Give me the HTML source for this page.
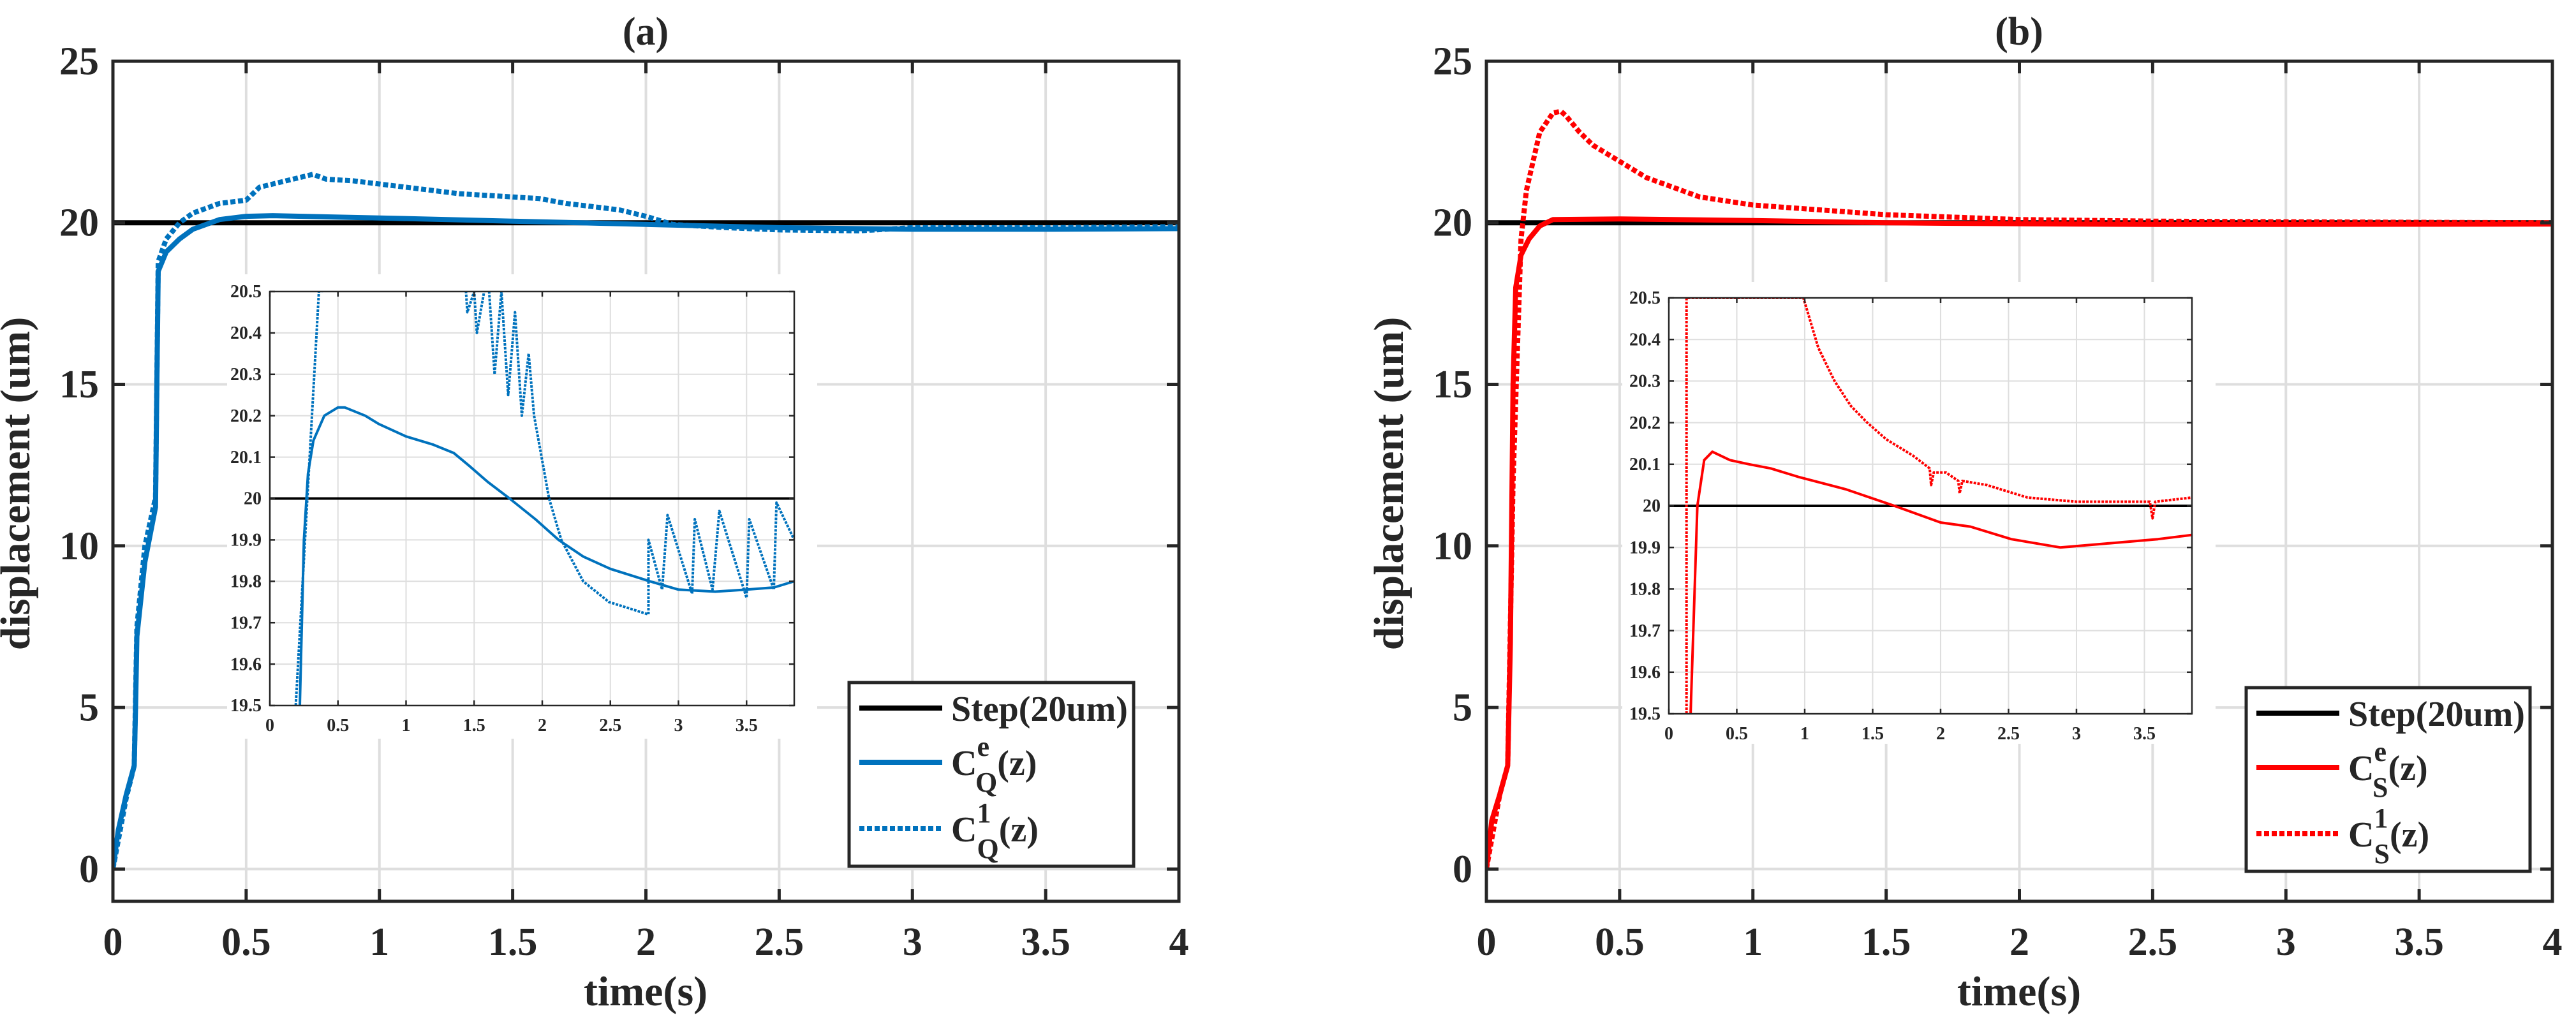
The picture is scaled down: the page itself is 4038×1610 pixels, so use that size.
<!DOCTYPE html>
<html><head><meta charset="utf-8">
<style>
html,body{margin:0;padding:0;background:#fff;}
svg{display:block;}
svg text{font-family:"Liberation Serif","Times New Roman",Times,serif !important;font-weight:bold;fill:#262626;}
</style></head>
<body>
<svg id="fig" width="4038" height="1610" viewBox="0 0 4038 1610" xmlns="http://www.w3.org/2000/svg" font-family="Liberation Serif, serif">
<defs>
<clipPath id="clipA"><rect x="177" y="96" width="1671" height="1317"/></clipPath>
<clipPath id="clipB"><rect x="2330" y="96" width="1671" height="1317"/></clipPath>
<clipPath id="clipAi"><rect x="423" y="457" width="822" height="649"/></clipPath>
<clipPath id="clipBi"><rect x="2616" y="467" width="820" height="652"/></clipPath>
</defs>
</svg>
<script>
// ---------- data: panel (a) main ----------
const mainTicksX = [0,0.5,1,1.5,2,2.5,3,3.5,4];
const mainTickLabelsX = ['0','0.5','1','1.5','2','2.5','3','3.5','4'];
const mainTicksY = [0,5,10,15,20,25];
const mainTickLabelsY = ['0','5','10','15','20','25'];
const stepT = [0,4];
const stepV = [20,20];
const aCeT = [0,0.02,0.05,0.08,0.085,0.09,0.12,0.16,0.165,0.17,0.2,0.25,0.3,0.4,0.5,0.6,1.0,1.5,2.0,2.5,3.0,3.5,4.0];
const aCeV = [0,1.2,2.3,3.2,5,7.2,9.5,11.2,15,18.5,19.1,19.5,19.8,20.1,20.2,20.22,20.15,20.05,19.95,19.85,19.8,19.8,19.82];
const aC1T = [0,0.05,0.08,0.09,0.12,0.16,0.17,0.2,0.25,0.3,0.4,0.5,0.55,0.6,0.65,0.7,0.75,0.8,0.9,1.0,1.1,1.2,1.3,1.4,1.5,1.6,1.7,1.8,1.9,2.0,2.1,2.3,2.5,2.8,3.0,3.5,4.0];
const aC1V = [0,2.2,3.2,7.5,10,11.5,18.8,19.5,20.0,20.3,20.6,20.7,21.1,21.2,21.3,21.4,21.5,21.35,21.3,21.2,21.1,21.0,20.9,20.85,20.8,20.75,20.6,20.5,20.4,20.2,19.95,19.85,19.78,19.75,19.85,19.85,19.88];
// ---------- data: panel (a) inset ----------
const insetTicksX = [0,0.5,1,1.5,2,2.5,3,3.5];
const insetTickLabelsX = ['0','0.5','1','1.5','2','2.5','3','3.5'];
const insetTicksY = [19.5,19.6,19.7,19.8,19.9,20,20.1,20.2,20.3,20.4,20.5];
const insetTickLabelsY = ['19.5','19.6','19.7','19.8','19.9','20','20.1','20.2','20.3','20.4','20.5'];
const insetStepT = [0,3.85];
const insetStepV = [20,20];
const aiCeT = [0.22,0.25,0.28,0.32,0.4,0.5,0.55,0.7,0.8,1.0,1.2,1.35,1.46,1.6,1.76,1.95,2.12,2.3,2.5,2.79,3.0,3.27,3.5,3.7,3.85];
const aiCeV = [19.5,19.9,20.06,20.14,20.2,20.22,20.22,20.2,20.18,20.15,20.13,20.11,20.08,20.04,20.0,19.95,19.9,19.86,19.83,19.8,19.78,19.775,19.78,19.785,19.8];
const aiC1T = [0.19,0.36,1.43,1.45,1.5,1.52,1.6,1.65,1.7,1.75,1.8,1.85,1.9,1.94,2.05,2.14,2.3,2.49,2.78,2.78,2.88,2.92,3.1,3.12,3.25,3.3,3.5,3.52,3.7,3.72,3.85];
const aiC1V = [19.5,20.5,20.55,20.45,20.5,20.4,20.55,20.3,20.5,20.25,20.45,20.2,20.35,20.2,20.0,19.9,19.8,19.75,19.72,19.9,19.78,19.96,19.77,19.95,19.78,19.97,19.76,19.95,19.78,19.99,19.9];
// ---------- data: panel (b) main ----------
const bCeT = [0,0.02,0.05,0.08,0.09,0.1,0.11,0.13,0.16,0.2,0.25,0.5,1.0,1.5,2.0,2.5,3.0,4.0];
const bCeV = [0,1.5,2.3,3.2,7,15,18,19.0,19.5,19.9,20.1,20.12,20.07,20.0,19.97,19.95,19.95,19.96];
const bC1T = [0,0.05,0.08,0.1,0.13,0.15,0.2,0.25,0.28,0.3,0.35,0.4,0.5,0.6,0.8,1.0,1.5,2.0,2.5,3.0,4.0];
const bC1V = [0,2.3,3.2,12,19.5,21,22.8,23.4,23.45,23.3,22.8,22.4,21.9,21.4,20.8,20.55,20.25,20.1,20.05,20.03,20.0];
// ---------- data: panel (b) inset ----------
const biCeT = [0.16,0.21,0.26,0.32,0.45,0.59,0.75,0.95,1.3,1.66,2.0,2.22,2.52,2.88,3.24,3.6,3.85];
const biCeV = [19.5,20.0,20.11,20.13,20.11,20.1,20.09,20.07,20.04,20.0,19.96,19.95,19.92,19.9,19.91,19.92,19.93];
const biC1T = [0.13,0.13,0.99,1.1,1.22,1.34,1.46,1.6,1.8,1.92,1.93,1.95,2.04,2.13,2.14,2.16,2.34,2.64,3.0,3.54,3.56,3.58,3.85];
const biC1V = [19.5,20.5,20.5,20.38,20.3,20.24,20.2,20.16,20.12,20.09,20.05,20.08,20.08,20.06,20.03,20.06,20.05,20.02,20.01,20.01,19.97,20.01,20.02];

const NS = 'http://www.w3.org/2000/svg';
const svg = document.getElementById('fig');
const FONT = '"Liberation Serif", "Times New Roman", serif';
function el(tag, attrs, parent){
  const e = document.createElementNS(NS, tag);
  for (const k in attrs) e.setAttribute(k, attrs[k]);
  if (tag === 'text') { e.style.fontFamily = FONT; e.style.fontWeight = 'bold'; }
  (parent||svg).appendChild(e);
  return e;
}
function makeAxis(x0,x1,y0,y1,xmin,xmax,ymin,ymax){
  return {
    sx: t => x0 + (t - xmin) / (xmax - xmin) * (x1 - x0),
    sy: v => y1 - (v - ymin) / (ymax - ymin) * (y1 - y0),
    x0, x1, y0, y1
  };
}
function pathD(ax, ts, vs){
  return ts.map((t,i)=>(i?'L':'M')+ax.sx(t).toFixed(1)+' '+ax.sy(vs[i]).toFixed(1)).join(' ');
}
function drawLine(ax, ts, vs, color, w, dash, clip, name){
  const p = el('path', {d: pathD(ax, ts, vs), fill:'none', stroke:color, 'stroke-width':w, 'stroke-linejoin':'round', 'clip-path':'url(#'+clip+')'});
  if (dash) p.setAttribute('stroke-dasharray', dash);
  
  
  return p;
}
function drawAxes(ax, tx, tlx, ty, tly, o){
  const g = el('g', {});
  
  
  tx.forEach(t=>el('line',{x1:ax.sx(t),x2:ax.sx(t),y1:ax.y0,y2:ax.y1,stroke:'#dedede','stroke-width':o.gw},g));
  ty.forEach(v=>el('line',{x1:ax.x0,x2:ax.x1,y1:ax.sy(v),y2:ax.sy(v),stroke:'#dedede','stroke-width':o.gw},g));
}
function drawFrame(ax, tx, tlx, ty, tly, o){
  const g = el('g', {});
  
  
  el('rect',{x:ax.x0,y:ax.y0,width:ax.x1-ax.x0,height:ax.y1-ax.y0,fill:'none',stroke:'#262626','stroke-width':o.aw},g);
  tx.forEach(t=>{
    el('line',{x1:ax.sx(t),x2:ax.sx(t),y1:ax.y1,y2:ax.y1-o.tl,stroke:'#262626','stroke-width':o.aw},g);
    el('line',{x1:ax.sx(t),x2:ax.sx(t),y1:ax.y0,y2:ax.y0+o.tl,stroke:'#262626','stroke-width':o.aw},g);
  });
  ty.forEach(v=>{
    el('line',{x1:ax.x0,x2:ax.x0+o.tl,y1:ax.sy(v),y2:ax.sy(v),stroke:'#262626','stroke-width':o.aw},g);
    el('line',{x1:ax.x1,x2:ax.x1-o.tl,y1:ax.sy(v),y2:ax.sy(v),stroke:'#262626','stroke-width':o.aw},g);
  });
  const lx = el('g', {});
  
  
  tx.forEach((t,i)=>{
    const e = el('text',{x:ax.sx(t),y:ax.y1+o.xlOff,'font-size':o.fs,'text-anchor':'middle'},lx);
    e.textContent = tlx[i];
  });
  const ly = el('g', {});
  
  
  ty.forEach((v,i)=>{
    const e = el('text',{x:ax.x0-o.ylOff,y:ax.sy(v)+o.fs*0.33,'font-size':o.fs,'text-anchor':'end'},ly);
    e.textContent = tly[i];
  });
}
function label(x,y,txt,fs,rot,name){
  const e = el('text',{x:x,y:y,'font-size':fs,'text-anchor':'middle'});
  if (rot) e.setAttribute('transform','rotate(-90 '+x+' '+y+')');
  e.textContent = txt;
  
  
}
function legend(x,y,w,h,color,sub,name){
  const g = el('g',{});
  
  
  el('rect',{x:x,y:y,width:w,height:h,fill:'#fff',stroke:'#262626','stroke-width':5},g);
  const rows = [40,125,229];
  const items = [['#000',null,'Step(20um)'],[color,null,'e'],[color,'8 4','1']];
  items.forEach((it,i)=>{
    const ly = y+rows[i];
    const ln = el('line',{x1:x+16,x2:x+146,y1:ly,y2:ly,stroke:it[0],'stroke-width':8},g);
    if (it[1]) ln.setAttribute('stroke-dasharray', it[1]);
    const t = el('text',{x:x+160,y:ly+20,'font-size':56,fill:'#000'},g);
    
    
    if (i===0){ t.textContent = it[2]; }
    else {
      t.textContent = 'C';
      const s1 = el('tspan',{'font-size':44,dy:-30},t); s1.textContent = it[2];
      const s2 = el('tspan',{'font-size':44,dx:-22,dy:56},t); s2.textContent = sub;
      const s3 = el('tspan',{'font-size':56,dy:-26},t); s3.textContent = '(z)';
    }
  });
}
const mainOpt = {gw:4, aw:5, tl:19, fs:62, xlOff:84, ylOff:22};
const insetOpt = {gw:2, aw:2.5, tl:8, fs:28, xlOff:40, ylOff:13};

function panel(p){
  const ax = makeAxis(p.x0,p.x0+1671,96,1413,0,4,-1,25);
  drawAxes(ax, mainTicksX, mainTickLabelsX, mainTicksY, mainTickLabelsY, Object.assign({prefix:p.id+'-main'},mainOpt));
  drawLine(ax, stepT, stepV, '#000', 8, null, p.clip, p.id+'-step-line');
  drawLine(ax, p.c1T, p.c1V, p.color, 8, '8 4', p.clip, p.id+'-c1-line');
  drawLine(ax, p.ceT, p.ceV, p.color, 8, null, p.clip, p.id+'-ce-line');
  drawFrame(ax, mainTicksX, mainTickLabelsX, mainTicksY, mainTickLabelsY, Object.assign({prefix:p.id+'-main'},mainOpt));
  label(p.x0+835, 70, p.title, 62, false, p.id+'-title');
  label(p.x0+835, 1576, 'time(s)', 66, false, p.id+'-x-axis-title');
  label(p.x0-131, 758, 'displacement (um)', 66, true, p.id+'-y-axis-title');
  const bg = el('rect',{x:p.ib[0],y:p.ib[1],width:p.ib[2],height:p.ib[3],fill:'#fff'});
  
  
  const ia = makeAxis(p.ix0,p.ix1,p.iy0,p.iy1,0,3.85,19.5,20.5);
  drawAxes(ia, insetTicksX, insetTickLabelsX, insetTicksY, insetTickLabelsY, Object.assign({prefix:p.id+'-inset'},insetOpt));
  drawLine(ia, insetStepT, insetStepV, '#000', 4, null, p.iclip, p.id+'-inset-step-line');
  drawLine(ia, p.ic1T, p.ic1V, p.color, 4, '4 2', p.iclip, p.id+'-inset-c1-line');
  drawLine(ia, p.iceT, p.iceV, p.color, 4, null, p.iclip, p.id+'-inset-ce-line');
  drawFrame(ia, insetTicksX, insetTickLabelsX, insetTicksY, insetTickLabelsY, Object.assign({prefix:p.id+'-inset'},insetOpt));
  legend(p.lg[0],p.lg[1],p.lg[2],p.lg[3],p.color,p.sub,p.id+'-legend');
}
panel({id:'panel-a', x0:177, clip:'clipA', iclip:'clipAi', color:'#0072BD', title:'(a)', sub:'Q',
  ceT:aCeT, ceV:aCeV, c1T:aC1T, c1V:aC1V, iceT:aiCeT, iceV:aiCeV, ic1T:aiC1T, ic1V:aiC1V,
  ix0:423, ix1:1245, iy0:457, iy1:1106, ib:[356,430,925,728], lg:[1331,1070,446,288]});
panel({id:'panel-b', x0:2330, clip:'clipB', iclip:'clipBi', color:'#FF0000', title:'(b)', sub:'S',
  ceT:bCeT, ceV:bCeV, c1T:bC1T, c1V:bC1V, iceT:biCeT, iceV:biCeV, ic1T:biC1T, ic1V:biC1V,
  ix0:2616, ix1:3436, iy0:467, iy1:1119, ib:[2543,442,930,724], lg:[3521,1078,445,288]});
</script>
</body></html>
